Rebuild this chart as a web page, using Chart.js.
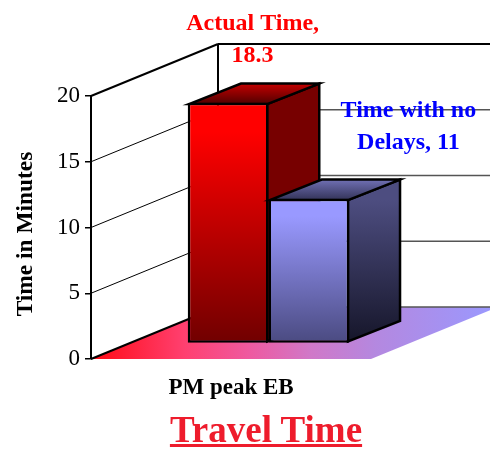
<!DOCTYPE html>
<html lang="en">
<head>
    <meta charset="UTF-8">
    <title>Travel Time</title>
    <script src="https://cdn.jsdelivr.net/npm/chart.js@4.4.0/dist/chart.umd.min.js"></script>
    <style>
        html, body { margin: 0; padding: 0; background: #fff; overflow: hidden; }
        #wrap { position: relative; width: 490px; height: 449px; }
        #title { position: absolute; left: 146px; top: 409px; width: 240px; text-align: center; white-space: nowrap;
                 font: bold 37px/42px "Liberation Serif", serif; color: #ee1c2c; text-decoration: underline; }
    </style>
</head>
<body>
<div id="wrap">
    <canvas id="travelChart" width="490" height="449"></canvas>
    <div id="title">Travel Time</div>
</div>
<script>
    const categories = ['PM peak EB'];
    const seriesNames = ['Actual Time', 'Time with no Delays'];
    const actualTime = [18.3];
    const noDelayTime = [11];
    const actualLabel = ['Actual Time,', '18.3'];
    const noDelayLabel = ['Time with no', 'Delays, 11'];
    const yTickStep = 5, yMax = 20;

    // fake 3d projection, in px
    const WALL = { dx: 127, dy: -52 };     // front of floor -> back wall
    const FRONT = { dx: 37.5, dy: -15.5 }; // front of floor -> front of bars
    const DEPTH = { dx: 52, dy: -20.5 };   // bar depth
    const BORDER = 2.5;

    const FLOOR_STOPS = [[0, '#ff0a14'], [0.23, '#ff4070'], [0.39, '#ee5aa0'], [0.54, '#d078c8'], [0.7, '#b488e0'], [1, '#9999ff']];

    const FACES = [
        { front: [[0, '#ff0000'], [0.12, '#ff0000'], [1, '#700000']],
          side: [[0, '#770000'], [1, '#770000']],
          top: ['#c40000', '#500000'],
          label: actualLabel, color: '#ff0000', labelDx: 62, labelY: 30 },
        { front: [[0, '#9999ff'], [0.12, '#9999ff'], [1, '#4a4a80']],
          side: [[0, '#4d4d80'], [1, '#16162a']],
          top: ['#7070b4', '#333358'],
          label: noDelayLabel, color: '#0000ff', labelDx: 137, labelY: 117 }
    ];

    function stopsGradient(ctx, y0, y1, stops) {
        const g = ctx.createLinearGradient(0, y0, 0, y1);
        stops.forEach(s => g.addColorStop(s[0], s[1]));
        return g;
    }

    function frontFill(context) {
        const chart = context.chart, y = chart.scales.y;
        const value = context.dataset.data[0];
        const stops = FACES[context.datasetIndex].front;
        const y0 = y.getPixelForValue(value), y1 = y.getPixelForValue(0);
        // options also get resolved before the scale has its size
        if (!isFinite(y0) || !isFinite(y1)) return stops[0][1];
        return stopsGradient(chart.ctx, y0, y1, stops);
    }

    function poly(ctx, pts, fill, stroke, lw) {
        ctx.beginPath();
        pts.forEach((p, i) => i ? ctx.lineTo(p[0], p[1]) : ctx.moveTo(p[0], p[1]));
        ctx.closePath();
        if (fill) { ctx.fillStyle = fill; ctx.fill(); }
        if (stroke) { ctx.strokeStyle = stroke; ctx.lineWidth = lw; ctx.lineJoin = 'miter'; ctx.stroke(); }
    }

    function line(ctx, x0, y0, x1, y1, color, lw) {
        ctx.beginPath();
        ctx.moveTo(x0, y0);
        ctx.lineTo(x1, y1);
        ctx.strokeStyle = color;
        ctx.lineWidth = lw;
        ctx.stroke();
    }

    function drawWalls(chart) {
        const ctx = chart.ctx, y = chart.scales.y, a = chart.chartArea;
        const y0 = y.getPixelForValue(0);

        const floor = ctx.createLinearGradient(a.left, 0, a.right + WALL.dx, 0);
        FLOOR_STOPS.forEach(s => floor.addColorStop(s[0], s[1]));
        poly(ctx, [[a.left, y0], [a.right, y0], [a.right + WALL.dx, y0 + WALL.dy], [a.left + WALL.dx, y0 + WALL.dy]], floor);

        const bx = a.left + WALL.dx;
        y.ticks.forEach(t => {
            const py = y.getPixelForValue(t.value);
            const edge = t.value === 0 || t.value === yMax;
            line(ctx, a.left, py, bx, py + WALL.dy, '#000', edge ? 2 : 1);
            line(ctx, bx, py + WALL.dy, chart.width, py + WALL.dy, t.value === yMax ? '#000' : '#555', t.value === yMax ? 2 : 1.5);
        });
        line(ctx, bx, y.getPixelForValue(yMax) + WALL.dy, bx, y0 + WALL.dy, '#000', 2);
    }

    function drawBar(chart, i) {
        const ctx = chart.ctx, meta = chart.getDatasetMeta(i), face = FACES[i];
        const el = meta.data[0], inset = BORDER / 2;
        const l = el.x - el.width / 2 + FRONT.dx + inset, r = el.x + el.width / 2 + FRONT.dx - inset;
        const t = el.y + FRONT.dy + inset, b = el.base + FRONT.dy - inset;
        const side = stopsGradient(ctx, t, b, face.side);
        const topFill = stopsGradient(ctx, t + DEPTH.dy, t, [[0, face.top[0]], [1, face.top[1]]]);

        poly(ctx, [[r, t], [r + DEPTH.dx, t + DEPTH.dy], [r + DEPTH.dx, b + DEPTH.dy], [r, b]], side, '#000', BORDER);
        poly(ctx, [[l, t], [l + DEPTH.dx, t + DEPTH.dy], [r + DEPTH.dx, t + DEPTH.dy], [r, t]], topFill, '#000', BORDER);

        // front face is the library's own bar, moved onto the floor
        ctx.save();
        ctx.translate(FRONT.dx, FRONT.dy);
        meta.controller.draw();
        ctx.restore();
    }

    const bars3d = {
        id: 'bars3d',
        beforeDatasetsDraw(chart) {
            drawWalls(chart);
            FACES.forEach((f, i) => drawBar(chart, i)); // red first, blue sits in front of it
        },
        beforeDatasetDraw() {
            return false;
        },
        afterDraw(chart) {
            const ctx = chart.ctx, a = chart.chartArea;
            ctx.save();
            ctx.textAlign = 'center';
            ctx.textBaseline = 'alphabetic';
            ctx.font = 'bold 24px "Liberation Serif", serif';
            FACES.forEach((f, i) => {
                const el = chart.getDatasetMeta(i).data[0];
                ctx.fillStyle = f.color;
                f.label.forEach((txt, n) => ctx.fillText(txt, el.x + f.labelDx, f.labelY + n * 32));
            });
            // axis title sits a little below the middle of the axis
            ctx.translate(32, (a.top + a.bottom) / 2 + 6.5);
            ctx.rotate(-Math.PI / 2);
            ctx.fillStyle = '#000';
            ctx.font = 'bold 23.4px "Liberation Serif", serif';
            ctx.fillText('Time in Minutes', 0, 0);
            ctx.restore();
        }
    };

    const barStyle = { backgroundColor: frontFill, borderColor: '#000', borderWidth: BORDER, borderSkipped: false,
                       barPercentage: 1, categoryPercentage: 0.577 };

    new Chart(document.getElementById('travelChart'), {
        type: 'bar',
        data: {
            labels: categories,
            datasets: [
                { label: seriesNames[0], data: actualTime, ...barStyle },
                { label: seriesNames[1], data: noDelayTime, ...barStyle }
            ]
        },
        options: {
            responsive: false,
            animation: false,
            layout: { padding: { top: 96, right: 119 } },
            plugins: {
                legend: { display: false },
                title: { display: false },
                tooltip: { enabled: false }
            },
            scales: {
                x: {
                    grid: { display: false },
                    border: { display: false },
                    ticks: { color: '#000', padding: 7, maxRotation: 0,
                             font: { family: '"Liberation Serif", serif', size: 23, weight: 'bold' } },
                    afterFit(s) { s.height = 90; }
                },
                y: {
                    min: 0,
                    max: yMax,
                    grid: { drawOnChartArea: false, color: '#000', tickLength: 6, lineWidth: 1.5 },
                    border: { color: '#000', width: 2 },
                    ticks: { stepSize: yTickStep, color: '#000', padding: 5,
                             font: { family: '"Liberation Serif", serif', size: 23 } },
                    afterFit(s) { s.width = 91; }
                }
            }
        },
        plugins: [bars3d]
    });
</script>
</body>
</html>
